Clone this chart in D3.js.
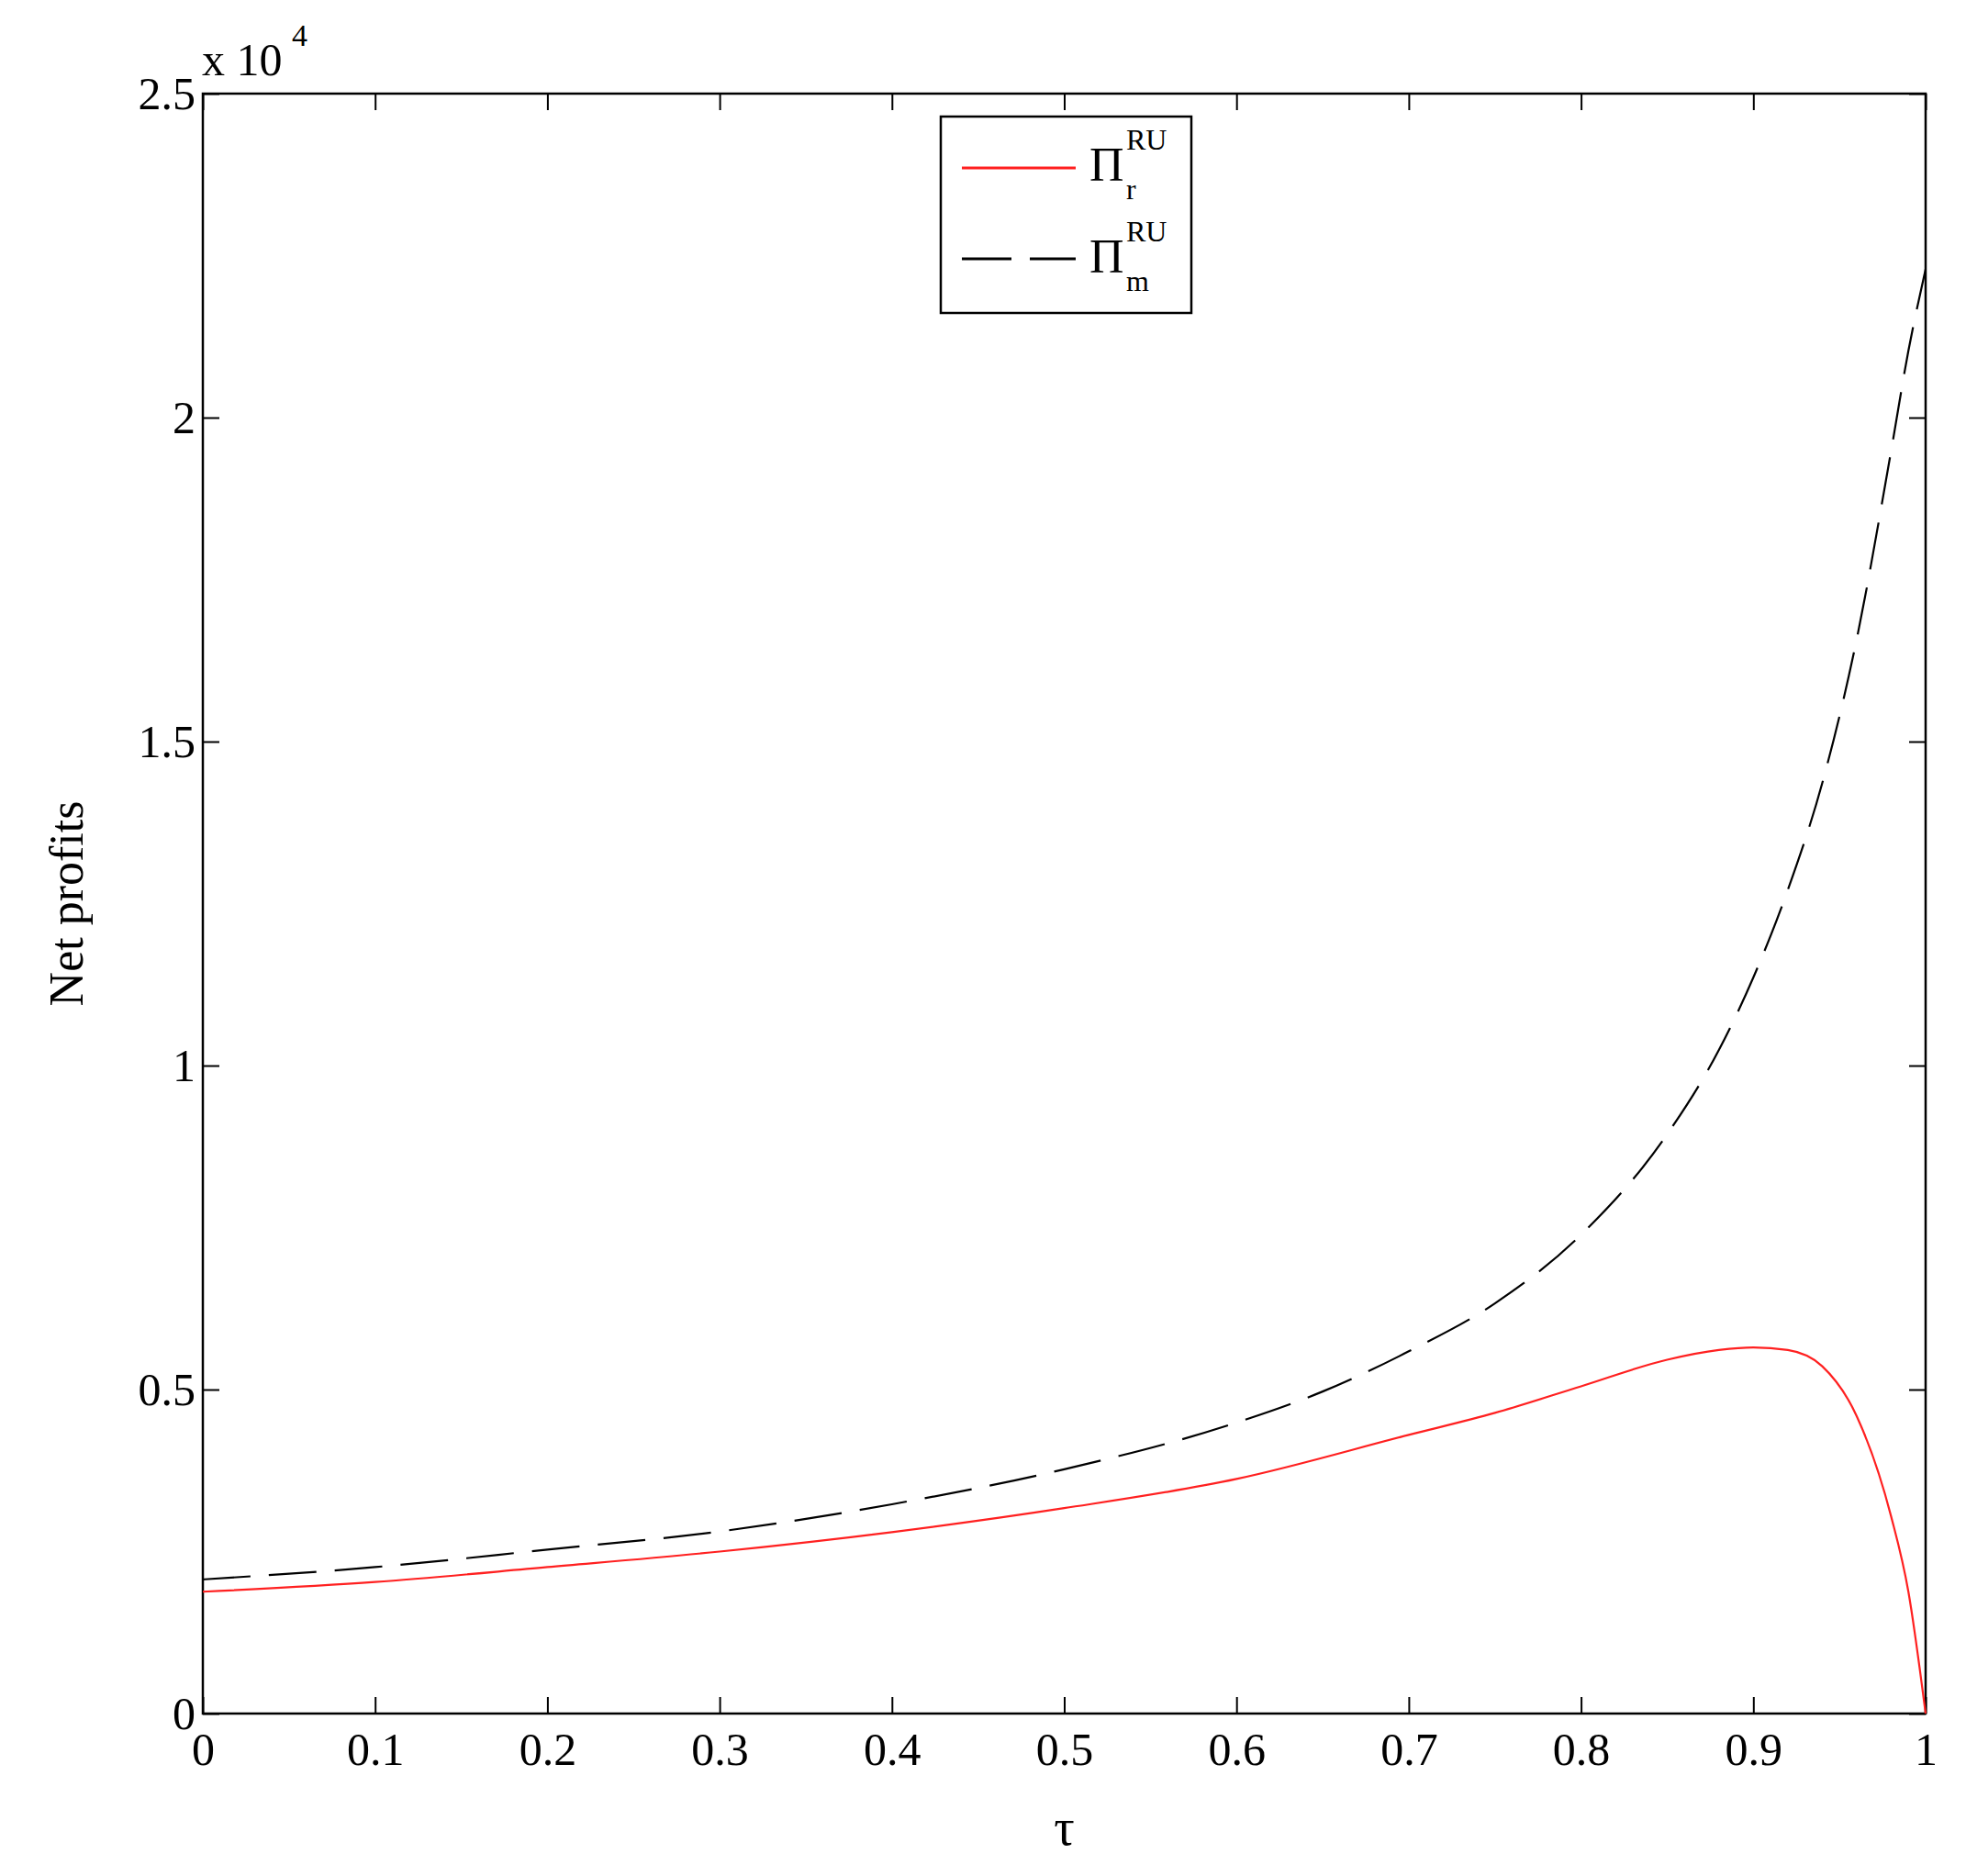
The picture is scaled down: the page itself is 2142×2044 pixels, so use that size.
<!DOCTYPE html>
<html><head><meta charset="utf-8">
<script src="https://cdn.jsdelivr.net/npm/d3@7"></script>
<style>body{margin:0;background:#fff}text{font-family:"Liberation Serif","Times New Roman",serif}</style>
</head><body><svg id="c" width="2142" height="2044"></svg>
<script>
const xTicks=[0,0.1,0.2,0.3,0.4,0.5,0.6,0.7,0.8,0.9,1];
const yTicks=[0,0.5,1,1.5,2,2.5];
const tauR=[0,0.1,0.2,0.3,0.4,0.5,0.6,0.7,0.75,0.8,0.85,0.88,0.9,0.92,0.94,0.96,0.98,0.99,1];
const profitR=[0.188,0.203,0.226,0.25,0.28,0.317,0.362,0.43,0.464,0.505,0.546,0.561,0.565,0.561,0.536,0.459,0.304,0.188,0];
const tauM=[0,0.1,0.2,0.3,0.4,0.5,0.6,0.65,0.7,0.75,0.8,0.85,0.88,0.9,0.92,0.94,0.96,0.98,0.99,1];
const profitM=[0.207,0.226,0.253,0.281,0.323,0.377,0.449,0.497,0.559,0.633,0.739,0.894,1.024,1.136,1.271,1.436,1.658,1.949,2.103,2.229];

const L=221,R=2098,T=102,B=1867;
const svg=d3.select("#c");
const x=d3.scaleLinear().domain([0,1]).range([L,R]);
const y=d3.scaleLinear().domain([0,2.5]).range([B,T]);
const fs=50;
const g=svg.append("g");
const ax=(gen,tr)=>{const a=g.append("g").attr("transform",tr).call(gen);a.select(".domain").remove();a.selectAll("line").attr("stroke","#000").attr("stroke-width",2);return a;};
const xb=ax(d3.axisBottom(x).tickValues(xTicks).tickSize(-18).tickPadding(20).tickFormat(d=>d3.format("")(d)),`translate(0,${B})`);
xb.selectAll("text").attr("font-size",fs).attr("fill","#000");
const xt=ax(d3.axisTop(x).tickValues(xTicks).tickSize(-18).tickFormat(""),`translate(0,${T})`);
const yl=ax(d3.axisLeft(y).tickValues(yTicks).tickSize(-18).tickPadding(8).tickFormat(d=>d3.format("")(d)),`translate(${L},0)`);
yl.selectAll("text").attr("font-size",fs).attr("fill","#000");
ax(d3.axisRight(y).tickValues(yTicks).tickSize(-18).tickFormat(""),`translate(${R},0)`);
g.append("rect").attr("x",L).attr("y",T).attr("width",R-L).attr("height",B-T).attr("fill","none").attr("stroke","#000").attr("stroke-width",2.5);

const line=d3.line().x(d=>x(d[0])).y(d=>y(d[1])).curve(d3.curveMonotoneX);
g.append("path").datum(tauM.map((t,i)=>[t,profitM[i]])).attr("d",line).attr("fill","none").attr("stroke","#000").attr("stroke-width",2.2).attr("stroke-dasharray","52,20");
g.append("path").datum(tauR.map((t,i)=>[t,profitR[i]])).attr("d",line).attr("fill","none").attr("stroke","#ff2020").attr("stroke-width",2.2);

svg.append("text").attr("x",220).attr("y",82).attr("font-size",fs).text("x 10");
svg.append("text").attr("x",318).attr("y",50).attr("font-size",34).text("4");
svg.append("text").attr("x",(L+R)/2).attr("y",2010).attr("text-anchor","middle").attr("font-size",56).text("τ");
svg.append("text").attr("transform",`translate(90,${(T+B)/2}) rotate(-90)`).attr("text-anchor","middle").attr("font-size",52).text("Net profits");

const lg=svg.append("g");
lg.append("rect").attr("x",1025).attr("y",127).attr("width",273).attr("height",214).attr("fill","#fff").attr("stroke","#000").attr("stroke-width",2.5);
lg.append("line").attr("x1",1048).attr("x2",1172).attr("y1",183).attr("y2",183).attr("stroke","#ff2020").attr("stroke-width",3);
lg.append("line").attr("x1",1048).attr("x2",1172).attr("y1",282).attr("y2",282).attr("stroke","#000").attr("stroke-width",3).attr("stroke-dasharray","54,20");
[["r",197],["m",297]].forEach(([s,yy])=>{
  lg.append("text").attr("x",1187).attr("y",yy).attr("font-size",52).text("Π");
  lg.append("text").attr("x",1227).attr("y",yy-34).attr("font-size",32).text("RU");
  lg.append("text").attr("x",1227).attr("y",yy+20).attr("font-size",32).text(s);
});
</script></body></html>
